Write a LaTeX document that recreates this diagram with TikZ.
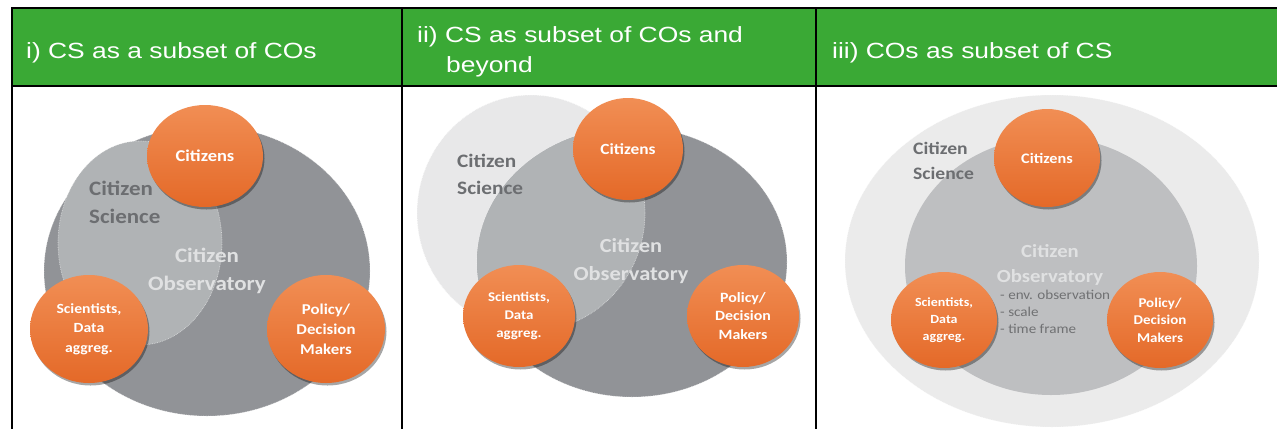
\documentclass[tikz,border=0pt]{standalone}
\usepackage{fontspec}
\setmainfont{Liberation Sans}
\newfontfamily\hdrfont[FakeStretch=1.2]{Liberation Sans}
\newfontfamily\carl[FakeStretch=1.12]{Carlito}
\usetikzlibrary{shapes.geometric,shadows}
\definecolor{hgreen}{RGB}{58,169,53}
\definecolor{coDark}{RGB}{145,147,151}
\definecolor{csMid}{RGB}{176,179,181}
\definecolor{csLight}{RGB}{232,232,233}
\definecolor{outerLight}{RGB}{235,235,235}
\definecolor{coLight}{RGB}{190,191,193}
\definecolor{csText}{RGB}{108,110,113}
\definecolor{coText}{RGB}{224,225,226}
\definecolor{bulText}{RGB}{112,113,115}
\definecolor{orTop}{RGB}{241,142,84}
\definecolor{orBot}{RGB}{228,105,40}
\newcommand\fsz[2]{\fontsize{#1}{#2}\selectfont}
\tikzset{
  blob/.style={ellipse, inner sep=0pt, draw=none},
  rim/.style={draw=white, draw opacity=0.55, densely dotted, line width=0.7pt},
  ball/.style={ellipse, inner sep=0pt, top color=orTop, bottom color=orBot,
    text=white, align=center,
    drop shadow={shadow xshift=1.5pt, shadow yshift=-2.5pt, opacity=0.35, fill=black}},
  headtext/.style={anchor=base west, inner sep=0pt, text=white, align=left, font=\hdrfont\fsz{22}{30}},
  cstext/.style={anchor=base west, inner sep=0pt, align=left, text=csText},
  cotext/.style={anchor=base, inner sep=0pt, align=center, text=coText},
}
\begin{document}
\begin{tikzpicture}[x=1pt,y=-1pt]
\useasboundingbox (0,0) rectangle (1277,429);
\fill[white] (0,0) rectangle (1277,429);
% header band
\fill[hgreen] (12,8) rectangle (1277,86);
\node[headtext] (h1) at (26,58) {i) CS as a subset of COs};
\node[headtext] (h2) at (417,72) {ii) CS as subset of COs and\\\hspace*{29pt}beyond};
\node[headtext] (h3) at (832,58) {iii) COs as subset of CS};
% ---------- panel 1 ----------
\node[blob, fill=coDark, minimum width=326pt, minimum height=290pt, rim] (co1) at (207,271) {};
\node[blob, fill=csMid, minimum width=164pt, minimum height=204pt, rim] (cs1) at (140,243) {};
\node[cstext, font=\carl\bfseries\fsz{20.5}{28}] (cs1t) at (89,223) {Citizen\\Science};
\node[cotext, font=\carl\bfseries\fsz{20.5}{28}] (co1t) at (207,290) {Citizen\\Observatory};
\node[ball, minimum width=116pt, minimum height=102pt, font=\carl\bfseries\fsz{16.5}{20}] (cit1) at (205,156) {Citizens};
\node[ball, minimum width=118pt, minimum height=108pt, font=\carl\bfseries\fsz{14}{19.5}] (sci1) at (89,329) {Scientists,\\Data\\aggreg.};
\node[ball, minimum width=118pt, minimum height=108pt, font=\carl\bfseries\fsz{15}{20}] (pol1) at (326,329) {Policy/\\Decision\\Makers};
% ---------- panel 2 ----------
\node[blob, fill=csLight, minimum width=228pt, minimum height=236pt, rim] (cs2) at (531,213) {};
\node[blob, fill=coDark, minimum width=310pt, minimum height=270pt, rim] (co2) at (632,262) {};
\begin{scope}
  \clip (cs2.center) ellipse [x radius=114pt, y radius=118pt];
  \fill[csMid] (co2.center) ellipse [x radius=155pt, y radius=135pt];
\end{scope}
\draw[rim] (cs2.center) ellipse [x radius=114pt, y radius=118pt];
\node[cstext, font=\carl\bfseries\fsz{19}{27}] (cs2t) at (457,194) {Citizen\\Science};
\node[cotext, font=\carl\bfseries\fsz{20}{28}] (co2t) at (631,280) {Citizen\\Observatory};
\node[ball, minimum width=110pt, minimum height=102pt, font=\carl\bfseries\fsz{15.5}{19}] (cit2) at (628,149) {Citizens};
\node[ball, minimum width=112pt, minimum height=102pt, font=\carl\bfseries\fsz{13.3}{18}] (sci2) at (519,316) {Scientists,\\Data\\aggreg.};
\node[ball, minimum width=112pt, minimum height=102pt, font=\carl\bfseries\fsz{14.2}{18.5}] (pol2) at (743,316) {Policy/\\Decision\\Makers};
% ---------- panel 3 ----------
\node[blob, fill=outerLight, minimum width=414pt, minimum height=332pt, rim] (cs3) at (1052,261) {};
\node[blob, fill=coLight, minimum width=292pt, minimum height=258pt] (co3) at (1051,266) {};
\node[cstext, font=\carl\bfseries\fsz{17.5}{25}] (cs3t) at (913,179) {Citizen\\Science};
\node[cotext, font=\carl\bfseries\fsz{18.5}{25}] (co3t) at (1050,282) {Citizen\\Observatory};
\node[anchor=base west, inner sep=0pt, align=left, text=bulText, font=\carl\fsz{13.5}{17}] (co3b) at (1000,333) {- env. observation\\- scale\\- time frame};
\node[ball, minimum width=106pt, minimum height=98pt, font=\carl\bfseries\fsz{14.5}{18}] (cit3) at (1047,158) {Citizens};
\node[ball, minimum width=106pt, minimum height=96pt, font=\carl\bfseries\fsz{12.5}{17}] (sci3) at (944,320) {Scientists,\\Data\\aggreg.};
\node[ball, minimum width=106pt, minimum height=96pt, font=\carl\bfseries\fsz{13.4}{17.5}] (pol3) at (1160,320) {Policy/\\Decision\\Makers};
% table rules
\draw[line width=2pt] (11,8) -- (1277,8);
\draw[line width=2pt] (11,86) -- (1277,86);
\draw[line width=2pt] (12,8) -- (12,429);
\draw[line width=2pt] (402,8) -- (402,429);
\draw[line width=2pt] (816,8) -- (816,429);
\end{tikzpicture}
\end{document}
